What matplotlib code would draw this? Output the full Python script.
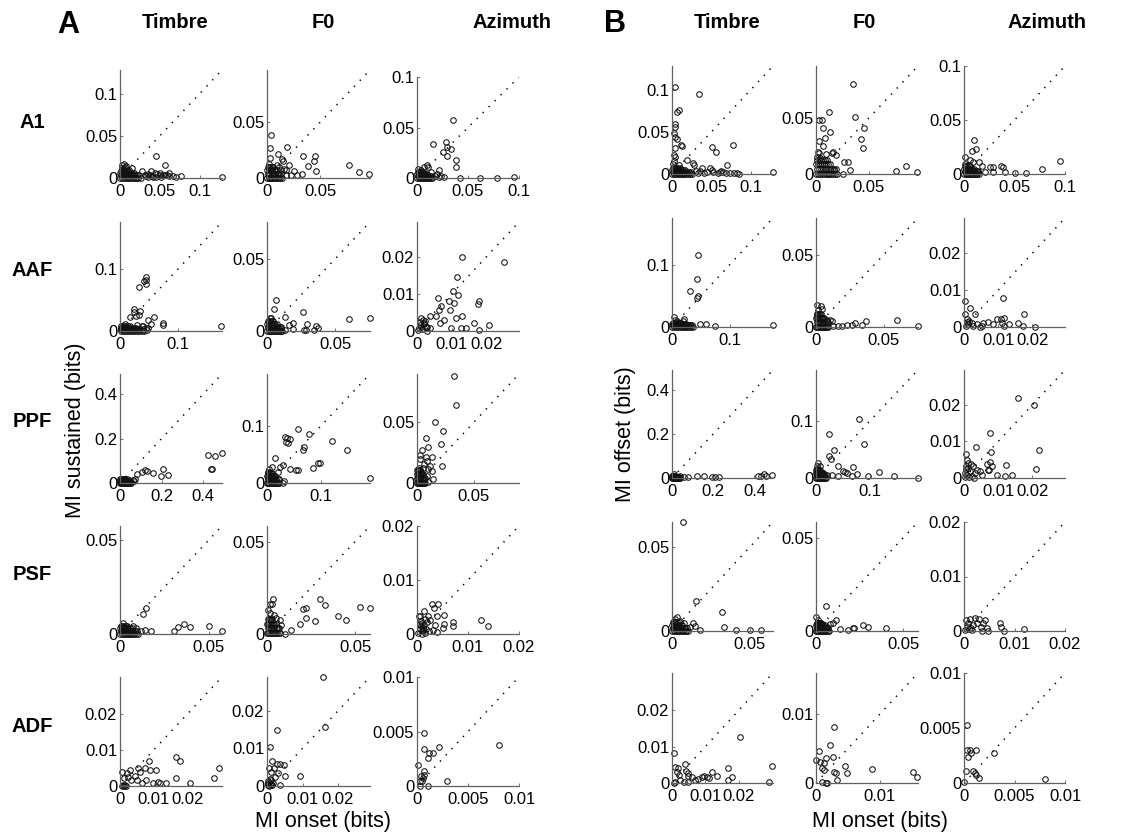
"""Onset vs sustained / offset mutual information, per cortical field and stimulus feature."""

import matplotlib

matplotlib.use("Agg")
import matplotlib.pyplot as plt
from matplotlib.ticker import FixedLocator, FuncFormatter

plt.rcParams["font.family"] = ["Liberation Sans", "DejaVu Sans"]

AREAS = ["A1", "AAF", "PPF", "PSF", "ADF"]
FEATURES = ["Timbre", "F0", "Azimuth"]

# --- MI onset (x) vs MI sustained (y), bits ---------------------------------
sust_a1_timbre = [
    (0.045, 0.026), (0.056, 0.016), (0.128, 0.001), (0.028, 0.008), (0.039, 0.008),
    (0.050, 0.006), (0.061, 0.006), (0.067, 0.002), (0.077, 0.002), (0.059, 0.003),
    (0.040, 0.002), (0.050, 0.004), (0.054, 0.003), (0.045, 0.001), (0.070, 0.001),
    (0.002, 0.016), (0.005, 0.017), (0.003, 0.012), (0.008, 0.014), (0.015, 0.012),
    (0.011, 0.010), (0.031, 0.004), (0.033, 0.002), (0.035, 0.001), (0.004, 0.011),
    (0.009, 0.010), (0.006, 0.013), (0.038, 0.0035), (0.042, 0.0015), (0.047, 0.0045),
    (0.052, 0.0015), (0.057, 0.004), (0.062, 0.002), (0.035, 0.005), (0.044, 0.006),
]
sust_a1_timbre_core = [
    (0.0006, 0.0003), (0.0028, 0.0003), (0.005, 0.0003), (0.0073, 0.0003), (0.0095, 0.0003),
    (0.0118, 0.0003), (0.014, 0.0003), (0.0162, 0.0003), (0.0185, 0.0003), (0.0207, 0.0003),
    (0.0232, 0.0003), (0.0258, 0.0003), (0.0014, 0.003), (0.0036, 0.003), (0.0059, 0.003),
    (0.0081, 0.003), (0.0104, 0.003), (0.0126, 0.003), (0.0148, 0.003), (0.0171, 0.003),
    (0.0193, 0.003), (0.0218, 0.003), (0.0244, 0.003), (0.0006, 0.0056), (0.0028, 0.0056),
    (0.005, 0.0056), (0.0073, 0.0056), (0.0095, 0.0056), (0.012, 0.0056), (0.0146, 0.0056),
    (0.0171, 0.0056), (0.0011, 0.0081), (0.0034, 0.0081), (0.0056, 0.0081), (0.0081, 0.0081),
    (0.0106, 0.0081),
]
sust_a1_f0 = [
    (0.004, 0.0385), (0.003, 0.027), (0.003, 0.018), (0.010, 0.022), (0.014, 0.017),
    (0.015, 0.015), (0.019, 0.028), (0.021, 0.0115), (0.018, 0.0076), (0.034, 0.020),
    (0.045, 0.020), (0.044, 0.015), (0.039, 0.011), (0.046, 0.006), (0.033, 0.004),
    (0.028, 0.003), (0.077, 0.0115), (0.087, 0.005), (0.0965, 0.004), (0.025, 0.006),
    (0.023, 0.003), (0.018, 0.003), (0.016, 0.008), (0.002, 0.013), (0.009, 0.012),
    (0.011, 0.010), (0.013, 0.007),
]
sust_a1_f0_core = [
    (0.0003, 0.0003), (0.0015, 0.0003), (0.0027, 0.0003), (0.0039, 0.0003), (0.0051, 0.0003),
    (0.0063, 0.0003), (0.0075, 0.0003), (0.0087, 0.0003), (0.0099, 0.0003), (0.0111, 0.0003),
    (0.0125, 0.0003), (0.0138, 0.0003), (0.0008, 0.0036), (0.002, 0.0036), (0.0032, 0.0036),
    (0.0044, 0.0036), (0.0056, 0.0036), (0.0068, 0.0036), (0.008, 0.0036), (0.0092, 0.0036),
    (0.0104, 0.0036), (0.0117, 0.0036), (0.0131, 0.0036), (0.0003, 0.0068), (0.0015, 0.0068),
    (0.0027, 0.0068), (0.0039, 0.0068), (0.0051, 0.0068), (0.0065, 0.0068), (0.0078, 0.0068),
    (0.0092, 0.0068), (0.0006, 0.0099), (0.0018, 0.0099), (0.003, 0.0099), (0.0044, 0.0099),
    (0.0057, 0.0099),
]
sust_a1_azimuth = [
    (0.035, 0.057), (0.028, 0.036), (0.029, 0.031), (0.029, 0.022), (0.033, 0.029),
    (0.016, 0.034), (0.025, 0.026), (0.038, 0.018), (0.038, 0.011), (0.022, 0.008),
    (0.010, 0.013), (0.011, 0.011), (0.0065, 0.0107), (0.004, 0.008), (0.014, 0.0057),
    (0.026, 0.0007), (0.042, 0.000), (0.062, 0.000), (0.078, 0.000), (0.095, 0.0013),
    (0.018, 0.002), (0.020, 0.004), (0.022, 0.001), (0.024, 0.002), (0.001, 0.009),
]
sust_a1_azimuth_core = [
    (0.0003, 0.0002), (0.0016, 0.0002), (0.0029, 0.0002), (0.0042, 0.0002), (0.0054, 0.0002),
    (0.0067, 0.0002), (0.008, 0.0002), (0.0093, 0.0002), (0.0106, 0.0002), (0.0118, 0.0002),
    (0.0133, 0.0002), (0.0147, 0.0002), (0.0008, 0.0023), (0.0021, 0.0023), (0.0034, 0.0023),
    (0.0046, 0.0023), (0.0059, 0.0023), (0.0072, 0.0023), (0.0085, 0.0023), (0.0098, 0.0023),
    (0.011, 0.0023), (0.0125, 0.0023), (0.0139, 0.0023), (0.0003, 0.0043), (0.0016, 0.0043),
    (0.0029, 0.0043), (0.0042, 0.0043), (0.0054, 0.0043), (0.0069, 0.0043), (0.0083, 0.0043),
    (0.0098, 0.0043), (0.0006, 0.0063), (0.0019, 0.0063), (0.0032, 0.0063), (0.0046, 0.0063),
    (0.0061, 0.0063),
]
sust_aaf_timbre = [
    (0.044, 0.086), (0.045, 0.082), (0.041, 0.081), (0.045, 0.076), (0.032, 0.070),
    (0.024, 0.035), (0.024, 0.031), (0.018, 0.022), (0.027, 0.024), (0.033, 0.025),
    (0.035, 0.032), (0.048, 0.017), (0.058, 0.022), (0.054, 0.012), (0.073, 0.0135),
    (0.074, 0.009), (0.174, 0.0086), (0.048, 0.0054), (0.009, 0.011), (0.029, 0.009),
    (0.037, 0.008), (0.040, 0.008), (0.046, 0.001), (0.044, 0.005),
]
sust_aaf_timbre_core = [
    (0.0009, 0.0003), (0.0045, 0.0003), (0.0081, 0.0003), (0.0117, 0.0003), (0.0153, 0.0003),
    (0.0189, 0.0003), (0.0225, 0.0003), (0.0261, 0.0003), (0.0297, 0.0003), (0.0333, 0.0003),
    (0.0374, 0.0003), (0.0414, 0.0003), (0.0023, 0.003), (0.0059, 0.003), (0.0095, 0.003),
    (0.0131, 0.003), (0.0167, 0.003), (0.0203, 0.003), (0.0239, 0.003), (0.0275, 0.003),
    (0.0311, 0.003), (0.0351, 0.003), (0.0392, 0.003), (0.0009, 0.0056), (0.0045, 0.0056),
    (0.0081, 0.0056), (0.0117, 0.0056), (0.0153, 0.0056), (0.0194, 0.0056), (0.0234, 0.0056),
    (0.0275, 0.0056), (0.0018, 0.0081), (0.0054, 0.0081), (0.009, 0.0081), (0.0131, 0.0081),
    (0.0171, 0.0081),
]
sust_aaf_f0 = [
    (0.0069, 0.0215), (0.005, 0.0152), (0.0032, 0.0093), (0.013, 0.0098), (0.0266, 0.0133),
    (0.019, 0.0056), (0.016, 0.004), (0.019, 0.0016), (0.029, 0.0051), (0.027, 0.0005),
    (0.0286, 0.0009), (0.036, 0.0033), (0.0377, 0.0023), (0.0345, 0.0005), (0.060, 0.0086),
    (0.0754, 0.0093), (0.010, 0.0016), (0.002, 0.009), (0.013, 0.001),
]
sust_aaf_f0_core = [
    (0.0002, 0.0002), (0.0012, 0.0002), (0.0022, 0.0002), (0.0031, 0.0002), (0.0041, 0.0002),
    (0.005, 0.0002), (0.006, 0.0002), (0.007, 0.0002), (0.0079, 0.0002), (0.0089, 0.0002),
    (0.010, 0.0002), (0.011, 0.0002), (0.0006, 0.0026), (0.0016, 0.0026), (0.0025, 0.0026),
    (0.0035, 0.0026), (0.0044, 0.0026), (0.0054, 0.0026), (0.0064, 0.0026), (0.0073, 0.0026),
    (0.0083, 0.0026), (0.0094, 0.0026), (0.0104, 0.0026), (0.0002, 0.005), (0.0012, 0.005),
    (0.0022, 0.005), (0.0031, 0.005), (0.0041, 0.005), (0.0052, 0.005), (0.0062, 0.005),
    (0.0073, 0.005), (0.0005, 0.0072), (0.0014, 0.0072), (0.0024, 0.0072), (0.0035, 0.0072),
    (0.0046, 0.0072),
]
sust_aaf_azimuth = [
    (0.0131, 0.0201), (0.0251, 0.0187), (0.0117, 0.0147), (0.0104, 0.0109), (0.0107, 0.0076),
    (0.0119, 0.0098), (0.0093, 0.0081), (0.006, 0.0088), (0.0063, 0.0058), (0.007, 0.0067),
    (0.0095, 0.0058), (0.0112, 0.0035), (0.0131, 0.0041), (0.0078, 0.003), (0.0054, 0.004),
    (0.0037, 0.004), (0.0066, 0.0021), (0.0097, 0.0009), (0.0127, 0.0009), (0.0141, 0.0009),
    (0.0166, 0.0021), (0.0178, 0.0003), (0.0209, 0.0017), (0.0178, 0.0081), (0.0175, 0.0074),
    (0.0012, 0.0035), (0.0018, 0.003), (0.0024, 0.0026), (0.0012, 0.0012), (0.0029, 0.0012),
    (0.0039, 0.0009), (0.0005, 0.0007), (0.002, 0.0018), (0.0003, 0.0003), (0.0008, 0.0015),
    (0.0015, 0.0005), (0.002, 0.0022), (0.0025, 0.001), (0.003, 0.000), (0.001, 0.0025),
]
sust_ppf_timbre = [
    (0.424, 0.125), (0.456, 0.122), (0.49, 0.137), (0.435, 0.065), (0.44, 0.065),
    (0.208, 0.065), (0.195, 0.030), (0.232, 0.035), (0.157, 0.045), (0.12, 0.057),
    (0.128, 0.054), (0.104, 0.050), (0.083, 0.042), (0.072, 0.020), (0.061, 0.012),
    (0.032, 0.020), (0.065, 0.010), (0.045, 0.013), (0.024, 0.015),
]
sust_ppf_timbre_core = [
    (0.0012, 0.0005), (0.006, 0.0005), (0.0108, 0.0005), (0.0156, 0.0005), (0.0204, 0.0005),
    (0.0252, 0.0005), (0.030, 0.0005), (0.0348, 0.0005), (0.0396, 0.0005), (0.0444, 0.0005),
    (0.0498, 0.0005), (0.0552, 0.0005), (0.003, 0.006), (0.0078, 0.006), (0.0126, 0.006),
    (0.0174, 0.006), (0.0222, 0.006), (0.027, 0.006), (0.0318, 0.006), (0.0366, 0.006),
    (0.0414, 0.006), (0.0468, 0.006), (0.0522, 0.006), (0.0012, 0.011), (0.006, 0.011),
    (0.0108, 0.011), (0.0156, 0.011), (0.0204, 0.011), (0.0258, 0.011), (0.0312, 0.011),
    (0.0366, 0.011), (0.0024, 0.016), (0.0072, 0.016), (0.012, 0.016), (0.0174, 0.016),
    (0.0228, 0.016),
]
sust_ppf_f0 = [
    (0.058, 0.094), (0.034, 0.081), (0.037, 0.078), (0.043, 0.076), (0.035, 0.072),
    (0.038, 0.069), (0.078, 0.085), (0.119, 0.074), (0.068, 0.063), (0.067, 0.058),
    (0.147, 0.057), (0.094, 0.035), (0.098, 0.035), (0.084, 0.027), (0.043, 0.025),
    (0.053, 0.022), (0.057, 0.022), (0.19, 0.009), (0.015, 0.043), (0.029, 0.031),
    (0.024, 0.028), (0.010, 0.028), (0.004, 0.025), (0.029, 0.000), (0.031, 0.004),
    (0.002, 0.020), (0.020, 0.019),
]
sust_ppf_f0_core = [
    (0.0005, 0.0006), (0.0025, 0.0006), (0.0045, 0.0006), (0.0065, 0.0006), (0.0085, 0.0006),
    (0.0105, 0.0006), (0.0125, 0.0006), (0.0145, 0.0006), (0.0165, 0.0006), (0.0185, 0.0006),
    (0.0208, 0.0006), (0.023, 0.0006), (0.0013, 0.0066), (0.0033, 0.0066), (0.0053, 0.0066),
    (0.0073, 0.0066), (0.0093, 0.0066), (0.0113, 0.0066), (0.0133, 0.0066), (0.0153, 0.0066),
    (0.0173, 0.0066), (0.0195, 0.0066), (0.0218, 0.0066), (0.0005, 0.0124), (0.0025, 0.0124),
    (0.0045, 0.0124), (0.0065, 0.0124), (0.0085, 0.0124), (0.0108, 0.0124), (0.013, 0.0124),
    (0.0153, 0.0124), (0.001, 0.018), (0.003, 0.018), (0.005, 0.018), (0.0073, 0.018),
    (0.0095, 0.018),
]
sust_ppf_azimuth = [
    (0.0325, 0.0886), (0.034, 0.0644), (0.0162, 0.0506), (0.023, 0.043), (0.0083, 0.0375),
    (0.0212, 0.032), (0.0044, 0.027), (0.0094, 0.030), (0.003, 0.0228), (0.0077, 0.0214),
    (0.0133, 0.0214), (0.003, 0.020), (0.0088, 0.0178), (0.0059, 0.0158), (0.0118, 0.0144),
    (0.0221, 0.0144), (0.0053, 0.0122), (0.0094, 0.0117), (0.0133, 0.0103), (0.0035, 0.0089),
    (0.0142, 0.0033), (0.0024, 0.0047), (0.010, 0.001), (0.009, 0.006), (0.002, 0.012),
]
sust_ppf_azimuth_core = [
    (0.0002, 0.0004), (0.0008, 0.0004), (0.0014, 0.0004), (0.0021, 0.0004), (0.0027, 0.0004),
    (0.0034, 0.0004), (0.004, 0.0004), (0.0046, 0.0004), (0.0053, 0.0004), (0.0059, 0.0004),
    (0.0066, 0.0004), (0.0074, 0.0004), (0.0004, 0.004), (0.001, 0.004), (0.0017, 0.004),
    (0.0023, 0.004), (0.003, 0.004), (0.0036, 0.004), (0.0042, 0.004), (0.0049, 0.004),
    (0.0055, 0.004), (0.0062, 0.004), (0.007, 0.004), (0.0002, 0.0074), (0.0008, 0.0074),
    (0.0014, 0.0074), (0.0021, 0.0074), (0.0027, 0.0074), (0.0034, 0.0074), (0.0042, 0.0074),
    (0.0049, 0.0074), (0.0003, 0.0108), (0.001, 0.0108), (0.0016, 0.0108), (0.0023, 0.0108),
    (0.003, 0.0108),
]
sust_psf_timbre = [
    (0.0146, 0.0139), (0.0131, 0.0107), (0.0363, 0.0055), (0.0396, 0.0037), (0.0327, 0.0036),
    (0.0305, 0.0018), (0.050, 0.0044), (0.0575, 0.0018), (0.0177, 0.0018), (0.014, 0.0023),
    (0.012, 0.0018), (0.0075, 0.004), (0.0093, 0.0032), (0.0015, 0.0059),
]
sust_psf_timbre_core = [
    (0.0002, 0.0002), (0.0011, 0.0002), (0.002, 0.0002), (0.0029, 0.0002), (0.0037, 0.0002),
    (0.0046, 0.0002), (0.0055, 0.0002), (0.0064, 0.0002), (0.0073, 0.0002), (0.0081, 0.0002),
    (0.0091, 0.0002), (0.0101, 0.0002), (0.0006, 0.0017), (0.0014, 0.0017), (0.0023, 0.0017),
    (0.0032, 0.0017), (0.0041, 0.0017), (0.005, 0.0017), (0.0058, 0.0017), (0.0067, 0.0017),
    (0.0076, 0.0017), (0.0086, 0.0017), (0.0096, 0.0017), (0.0002, 0.0031), (0.0011, 0.0031),
    (0.002, 0.0031), (0.0029, 0.0031), (0.0037, 0.0031), (0.0047, 0.0031), (0.0057, 0.0031),
    (0.0067, 0.0031), (0.0004, 0.0045), (0.0013, 0.0045), (0.0022, 0.0045), (0.0032, 0.0045),
    (0.0042, 0.0045),
]
sust_psf_f0 = [
    (0.0034, 0.019), (0.0019, 0.0164), (0.0031, 0.0162), (0.0006, 0.0128), (0.0015, 0.0113),
    (0.0038, 0.0104), (0.005, 0.0086), (0.0025, 0.0068), (0.0073, 0.0077), (0.0082, 0.005),
    (0.0303, 0.019), (0.0331, 0.0158), (0.0207, 0.0135), (0.0222, 0.014), (0.022, 0.0086),
    (0.0274, 0.0068), (0.0188, 0.0054), (0.0136, 0.0023), (0.0102, 0.000), (0.0529, 0.0144),
    (0.0585, 0.014), (0.0404, 0.0099), (0.0446, 0.0074),
]
sust_psf_f0_core = [
    (0.0002, 0.0003), (0.0008, 0.0003), (0.0014, 0.0003), (0.0021, 0.0003), (0.0027, 0.0003),
    (0.0034, 0.0003), (0.004, 0.0003), (0.0046, 0.0003), (0.0053, 0.0003), (0.0059, 0.0003),
    (0.0066, 0.0003), (0.0074, 0.0003), (0.0004, 0.003), (0.001, 0.003), (0.0017, 0.003),
    (0.0023, 0.003), (0.003, 0.003), (0.0036, 0.003), (0.0042, 0.003), (0.0049, 0.003),
    (0.0055, 0.003), (0.0062, 0.003), (0.007, 0.003), (0.0002, 0.0056), (0.0008, 0.0056),
    (0.0014, 0.0056), (0.0021, 0.0056), (0.0027, 0.0056), (0.0034, 0.0056), (0.0042, 0.0056),
    (0.0049, 0.0056), (0.0003, 0.0081), (0.001, 0.0081), (0.0016, 0.0081), (0.0023, 0.0081),
    (0.003, 0.0081),
]
sust_psf_azimuth = [
    (0.0029, 0.0056), (0.0042, 0.0055), (0.0034, 0.0049), (0.0052, 0.0036), (0.0039, 0.0033),
    (0.0013, 0.0042), (0.0005, 0.0033), (0.0003, 0.0033), (0.0021, 0.0033), (0.0026, 0.0026),
    (0.0019, 0.0023), (0.001, 0.002), (0.0036, 0.0017), (0.0052, 0.0018), (0.0051, 0.0012),
    (0.007, 0.0014), (0.0071, 0.0023), (0.0125, 0.0026), (0.014, 0.0015), (0.0039, 0.0003),
    (0.0032, 0.0008), (0.0023, 0.0005), (0.0002, 0.0002), (0.0005, 0.001), (0.0008, 0.0015),
    (0.001, 0.0005), (0.0012, 0.0012), (0.0015, 0.0002), (0.0018, 0.001), (0.001, 0.000),
    (0.0005, 0.0018), (0.0014, 0.0017), (0.0007, 0.0025), (0.0016, 0.0028), (0.0011, 0.0008),
]
sust_adf_timbre = [
    (0.0292, 0.0049), (0.0279, 0.0021), (0.0206, 0.0009), (0.0167, 0.0081), (0.0178, 0.0069),
    (0.0167, 0.0021), (0.0137, 0.0007), (0.0113, 0.0012), (0.0118, 0.0007), (0.0098, 0.0007),
    (0.0086, 0.0069), (0.0075, 0.0049), (0.009, 0.0044), (0.0106, 0.0044), (0.0078, 0.0018),
    (0.0059, 0.004), (0.0054, 0.0049), (0.0044, 0.0028), (0.0029, 0.0044), (0.002, 0.0035),
    (0.0005, 0.004), (0.0012, 0.0021), (0.0025, 0.0026), (0.0034, 0.0017), (0.0049, 0.0017),
    (0.0064, 0.0007), (0.0005, 0.000), (0.0012, 0.000), (0.0018, 0.000), (0.0008, 0.0004),
    (0.0015, 0.0002),
]
sust_adf_f0 = [
    (0.0157, 0.0289), (0.0164, 0.0158), (0.0029, 0.0149), (0.0009, 0.0103), (0.0015, 0.0066),
    (0.0027, 0.0058), (0.0036, 0.0058), (0.0047, 0.0056), (0.0006, 0.0047), (0.0019, 0.0047),
    (0.0012, 0.0038), (0.0031, 0.0035), (0.005, 0.0027), (0.0093, 0.0027), (0.0022, 0.0025),
    (0.0008, 0.0018), (0.0036, 0.0003), (0.0003, 0.0008), (0.0008, 0.0006), (0.0012, 0.0003),
    (0.0006, 0.000), (0.0003, 0.0003), (0.0006, 0.001), (0.001, 0.0005), (0.0012, 0.0015),
    (0.0015, 0.0002), (0.0004, 0.0013), (0.0017, 0.0009),
]
sust_adf_azimuth = [
    (0.0007, 0.0049), (0.00065, 0.0034), (0.0011, 0.0026), (0.0012, 0.003), (0.0016, 0.003),
    (0.0022, 0.0036), (0.008, 0.0038), (0.0001, 0.0019), (0.0007, 0.0014), (0.0004, 0.0009),
    (0.0006, 0.0007), (0.0003, 0.0005), (0.0005, 0.0005), (0.0003, 0.000), (0.0011, 0.000),
    (0.0029, 0.0005), (0.00065, 0.001),
]

# --- MI onset (x) vs MI offset (y), bits ------------------------------------
off_a1_timbre = [
    (0.0042, 0.1028), (0.0336, 0.0945), (0.0063, 0.0739), (0.0084, 0.0759), (0.0042, 0.0593),
    (0.0034, 0.0561), (0.0021, 0.0482), (0.0042, 0.0443), (0.0063, 0.0411), (0.0034, 0.0304),
    (0.0113, 0.0344), (0.0126, 0.0336), (0.0021, 0.0225), (0.0042, 0.0206), (0.0189, 0.0166),
    (0.0265, 0.0134), (0.0273, 0.0107), (0.0504, 0.0324), (0.0559, 0.0265), (0.0769, 0.0344),
    (0.0702, 0.0107), (0.0378, 0.0067), (0.0483, 0.0067), (0.0504, 0.0047), (0.0525, 0.0028),
    (0.0609, 0.0028), (0.0651, 0.002), (0.0735, 0.0008), (0.0819, 0.0008), (0.128, 0.002),
    (0.001, 0.012), (0.003, 0.015), (0.009, 0.011), (0.030, 0.004), (0.033, 0.0015),
    (0.036, 0.003), (0.040, 0.001), (0.044, 0.0025), (0.058, 0.001), (0.062, 0.0035),
    (0.068, 0.001), (0.078, 0.0015), (0.085, 0.0005),
]
off_a1_timbre_core = [
    (0.0005, 0.0002), (0.0027, 0.0002), (0.0049, 0.0002), (0.007, 0.0002), (0.0092, 0.0002),
    (0.0113, 0.0002), (0.0135, 0.0002), (0.0157, 0.0002), (0.0178, 0.0002), (0.020, 0.0002),
    (0.0224, 0.0002), (0.0248, 0.0002), (0.0014, 0.0026), (0.0035, 0.0026), (0.0057, 0.0026),
    (0.0078, 0.0026), (0.010, 0.0026), (0.0122, 0.0026), (0.0143, 0.0026), (0.0165, 0.0026),
    (0.0186, 0.0026), (0.0211, 0.0026), (0.0235, 0.0026), (0.0005, 0.005), (0.0027, 0.005),
    (0.0049, 0.005), (0.007, 0.005), (0.0092, 0.005), (0.0116, 0.005), (0.014, 0.005),
    (0.0165, 0.005), (0.0011, 0.0072), (0.0032, 0.0072), (0.0054, 0.0072), (0.0078, 0.0072),
    (0.0103, 0.0072),
]
off_a1_f0 = [
    (0.035, 0.0808), (0.0121, 0.056), (0.0032, 0.0485), (0.0054, 0.0485), (0.0064, 0.0416),
    (0.0134, 0.0374), (0.0086, 0.032), (0.0025, 0.030), (0.0064, 0.0254), (0.0016, 0.020),
    (0.0032, 0.0192), (0.0095, 0.018), (0.0159, 0.020), (0.0153, 0.0192), (0.019, 0.017),
    (0.0372, 0.0509), (0.0452, 0.041), (0.043, 0.031), (0.0445, 0.023), (0.027, 0.011),
    (0.030, 0.0105), (0.0328, 0.0036), (0.0254, 0.000), (0.0175, 0.0036), (0.0757, 0.003),
    (0.0859, 0.0072), (0.0964, 0.0021), (0.001, 0.015), (0.004, 0.014), (0.010, 0.013),
]
off_a1_f0_core = [
    (0.0004, 0.0004), (0.0022, 0.0004), (0.004, 0.0004), (0.0057, 0.0004), (0.0075, 0.0004),
    (0.0092, 0.0004), (0.011, 0.0004), (0.0128, 0.0004), (0.0145, 0.0004), (0.0163, 0.0004),
    (0.0183, 0.0004), (0.0202, 0.0004), (0.0011, 0.0046), (0.0029, 0.0046), (0.0046, 0.0046),
    (0.0064, 0.0046), (0.0081, 0.0046), (0.0099, 0.0046), (0.0117, 0.0046), (0.0134, 0.0046),
    (0.0152, 0.0046), (0.0172, 0.0046), (0.0191, 0.0046), (0.0004, 0.0087), (0.0022, 0.0087),
    (0.004, 0.0087), (0.0057, 0.0087), (0.0075, 0.0087), (0.0095, 0.0087), (0.0114, 0.0087),
    (0.0134, 0.0087), (0.0009, 0.0126), (0.0026, 0.0126), (0.0044, 0.0126), (0.0064, 0.0126),
    (0.0084, 0.0126),
]
off_a1_azimuth = [
    (0.0099, 0.0315), (0.0076, 0.0216), (0.0119, 0.0231), (0.001, 0.016), (0.0059, 0.013),
    (0.0092, 0.0108), (0.0152, 0.0108), (0.0175, 0.0077), (0.0257, 0.0062), (0.0284, 0.0068),
    (0.0363, 0.0077), (0.0383, 0.0068), (0.0406, 0.0015), (0.0505, 0.0012), (0.0614, 0.0012),
    (0.0769, 0.0046), (0.095, 0.012), (0.029, 0.0015), (0.0208, 0.0015), (0.0142, 0.0022),
    (0.001, 0.009), (0.005, 0.008),
]
off_a1_azimuth_core = [
    (0.0003, 0.0002), (0.0016, 0.0002), (0.0029, 0.0002), (0.0042, 0.0002), (0.0054, 0.0002),
    (0.0067, 0.0002), (0.008, 0.0002), (0.0093, 0.0002), (0.0106, 0.0002), (0.0118, 0.0002),
    (0.0133, 0.0002), (0.0147, 0.0002), (0.0008, 0.0026), (0.0021, 0.0026), (0.0034, 0.0026),
    (0.0046, 0.0026), (0.0059, 0.0026), (0.0072, 0.0026), (0.0085, 0.0026), (0.0098, 0.0026),
    (0.011, 0.0026), (0.0125, 0.0026), (0.0139, 0.0026), (0.0003, 0.005), (0.0016, 0.005),
    (0.0029, 0.005), (0.0042, 0.005), (0.0054, 0.005), (0.0069, 0.005), (0.0083, 0.005),
    (0.0098, 0.005), (0.0006, 0.0072), (0.0019, 0.0072), (0.0032, 0.0072), (0.0046, 0.0072),
    (0.0061, 0.0072),
]
off_aaf_timbre = [
    (0.0458, 0.1156), (0.043, 0.0763), (0.0315, 0.0575), (0.0458, 0.0495), (0.0441, 0.0473),
    (0.0029, 0.0161), (0.0046, 0.012), (0.0212, 0.0134), (0.0115, 0.0065), (0.0315, 0.0038),
    (0.0487, 0.0054), (0.059, 0.0043), (0.0745, 0.0011), (0.175, 0.0038), (0.009, 0.010),
    (0.019, 0.009),
]
off_aaf_timbre_core = [
    (0.0008, 0.0002), (0.004, 0.0002), (0.0072, 0.0002), (0.0104, 0.0002), (0.0136, 0.0002),
    (0.0168, 0.0002), (0.020, 0.0002), (0.0232, 0.0002), (0.0264, 0.0002), (0.0296, 0.0002),
    (0.0332, 0.0002), (0.0368, 0.0002), (0.002, 0.0026), (0.0052, 0.0026), (0.0084, 0.0026),
    (0.0116, 0.0026), (0.0148, 0.0026), (0.018, 0.0026), (0.0212, 0.0026), (0.0244, 0.0026),
    (0.0276, 0.0026), (0.0312, 0.0026), (0.0348, 0.0026), (0.0008, 0.005), (0.004, 0.005),
    (0.0072, 0.005), (0.0104, 0.005), (0.0136, 0.005), (0.0172, 0.005), (0.0208, 0.005),
    (0.0244, 0.005), (0.0016, 0.0072), (0.0048, 0.0072), (0.008, 0.0072), (0.0116, 0.0072),
    (0.0152, 0.0072),
]
off_aaf_f0 = [
    (0.001, 0.0151), (0.0035, 0.0144), (0.0017, 0.0116), (0.0042, 0.0128), (0.0005, 0.0093),
    (0.0025, 0.007), (0.0054, 0.0058), (0.0079, 0.0047), (0.0104, 0.0051), (0.0116, 0.0042),
    (0.0129, 0.0005), (0.0166, 0.0005), (0.019, 0.0005), (0.0233, 0.0012), (0.0265, 0.0012),
    (0.029, 0.0028), (0.0339, 0.0012), (0.0369, 0.0042), (0.0599, 0.0051), (0.0755, 0.0005),
]
off_aaf_f0_core = [
    (0.0002, 0.0003), (0.001, 0.0003), (0.0018, 0.0003), (0.0026, 0.0003), (0.0034, 0.0003),
    (0.0042, 0.0003), (0.005, 0.0003), (0.0058, 0.0003), (0.0066, 0.0003), (0.0074, 0.0003),
    (0.0083, 0.0003), (0.0092, 0.0003), (0.0005, 0.0033), (0.0013, 0.0033), (0.0021, 0.0033),
    (0.0029, 0.0033), (0.0037, 0.0033), (0.0045, 0.0033), (0.0053, 0.0033), (0.0061, 0.0033),
    (0.0069, 0.0033), (0.0078, 0.0033), (0.0087, 0.0033), (0.0002, 0.0062), (0.001, 0.0062),
    (0.0018, 0.0062), (0.0026, 0.0062), (0.0034, 0.0062), (0.0043, 0.0062), (0.0052, 0.0062),
    (0.0061, 0.0062), (0.0004, 0.009), (0.0012, 0.009), (0.002, 0.009), (0.0029, 0.009),
    (0.0038, 0.009),
]
off_aaf_azimuth = [
    (0.0003, 0.0071), (0.0018, 0.0051), (0.0003, 0.0036), (0.0032, 0.0034), (0.0115, 0.0078),
    (0.0175, 0.0036), (0.0095, 0.0023), (0.0107, 0.0023), (0.0117, 0.0024), (0.011, 0.0012),
    (0.0117, 0.0003), (0.013, 0.0007), (0.0159, 0.0012), (0.0173, 0.0003), (0.0207, 0.000),
    (0.0056, 0.0012), (0.0071, 0.0014), (0.0086, 0.0007), (0.001, 0.0021), (0.0022, 0.0012),
    (0.0037, 0.0007), (0.0052, 0.0003), (0.0047, 0.000), (0.0006, 0.0003), (0.0012, 0.0009),
    (0.0016, 0.0016), (0.0026, 0.0004), (0.0008, 0.0013),
]
off_ppf_timbre = [
    (0.418, 0.0075), (0.43, 0.0106), (0.445, 0.0183), (0.487, 0.015), (0.458, 0.0106),
    (0.156, 0.0106), (0.193, 0.005), (0.209, 0.005), (0.23, 0.005), (0.12, 0.0075),
    (0.08, 0.005), (0.056, 0.005), (0.04, 0.0075), (0.012, 0.016),
]
off_ppf_timbre_core = [
    (0.0008, 0.0003), (0.004, 0.0003), (0.0072, 0.0003), (0.0104, 0.0003), (0.0136, 0.0003),
    (0.0168, 0.0003), (0.020, 0.0003), (0.0232, 0.0003), (0.0264, 0.0003), (0.0296, 0.0003),
    (0.0332, 0.0003), (0.0368, 0.0003), (0.002, 0.0033), (0.0052, 0.0033), (0.0084, 0.0033),
    (0.0116, 0.0033), (0.0148, 0.0033), (0.018, 0.0033), (0.0212, 0.0033), (0.0244, 0.0033),
    (0.0276, 0.0033), (0.0312, 0.0033), (0.0348, 0.0033), (0.0008, 0.0062), (0.004, 0.0062),
    (0.0072, 0.0062), (0.0104, 0.0062), (0.0136, 0.0062), (0.0172, 0.0062), (0.0208, 0.0062),
    (0.0244, 0.0062), (0.0016, 0.009), (0.0048, 0.009), (0.008, 0.009), (0.0116, 0.009),
    (0.0152, 0.009),
]
off_ppf_f0 = [
    (0.0804, 0.104), (0.0897, 0.060), (0.0249, 0.0772), (0.0336, 0.0497), (0.0237, 0.038),
    (0.0274, 0.0333), (0.0044, 0.0263), (0.0075, 0.0216), (0.0012, 0.0205), (0.0025, 0.0158),
    (0.0417, 0.0216), (0.0685, 0.0193), (0.0498, 0.0117), (0.0542, 0.0099), (0.0573, 0.0088),
    (0.076, 0.0076), (0.1165, 0.0099), (0.1445, 0.0041), (0.096, 0.0041), (0.0667, 0.0029),
    (0.19, 0.000), (0.0137, 0.0088), (0.0199, 0.0058), (0.0293, 0.0058), (0.0417, 0.0041),
]
off_ppf_f0_core = [
    (0.0004, 0.0005), (0.002, 0.0005), (0.0036, 0.0005), (0.0052, 0.0005), (0.0068, 0.0005),
    (0.0084, 0.0005), (0.010, 0.0005), (0.0116, 0.0005), (0.0132, 0.0005), (0.0148, 0.0005),
    (0.0166, 0.0005), (0.0184, 0.0005), (0.001, 0.005), (0.0026, 0.005), (0.0042, 0.005),
    (0.0058, 0.005), (0.0074, 0.005), (0.009, 0.005), (0.0106, 0.005), (0.0122, 0.005),
    (0.0138, 0.005), (0.0156, 0.005), (0.0174, 0.005), (0.0004, 0.0093), (0.002, 0.0093),
    (0.0036, 0.0093), (0.0052, 0.0093), (0.0068, 0.0093), (0.0086, 0.0093), (0.0104, 0.0093),
    (0.0122, 0.0093), (0.0008, 0.0135), (0.0024, 0.0135), (0.004, 0.0135), (0.0058, 0.0135),
    (0.0076, 0.0135),
]
off_ppf_azimuth = [
    (0.0158, 0.0218), (0.0203, 0.020), (0.0075, 0.0124), (0.0035, 0.0084), (0.0219, 0.0076),
    (0.0006, 0.0066), (0.008, 0.0071), (0.0075, 0.0045), (0.0066, 0.0039), (0.0083, 0.0034),
    (0.0124, 0.0036), (0.007, 0.0023), (0.0072, 0.0021), (0.0097, 0.0009), (0.0119, 0.0005),
    (0.0141, 0.0009), (0.0211, 0.0025), (0.0008, 0.0048), (0.0013, 0.0041), (0.0027, 0.0032),
    (0.0039, 0.0023), (0.0054, 0.0009), (0.0006, 0.0025), (0.0017, 0.0018), (0.0032, 0.0014),
    (0.0046, 0.0018), (0.0003, 0.0003), (0.0009, 0.0009), (0.0015, 0.0002), (0.0022, 0.0006),
    (0.0004, 0.0014), (0.0028, 0.0001), (0.0011, 0.0028), (0.0021, 0.0038), (0.0005, 0.0034),
]
off_psf_timbre = [
    (0.007, 0.065), (0.0155, 0.018), (0.0319, 0.0115), (0.0334, 0.0022), (0.0138, 0.005),
    (0.0149, 0.003), (0.0032, 0.0085), (0.0021, 0.0069), (0.0053, 0.0061), (0.0079, 0.0046),
    (0.0113, 0.0026), (0.0181, 0.0006), (0.0411, 0.0006), (0.0504, 0.0006), (0.0574, 0.0006),
]
off_psf_timbre_core = [
    (0.0002, 0.0002), (0.0011, 0.0002), (0.002, 0.0002), (0.0029, 0.0002), (0.0037, 0.0002),
    (0.0046, 0.0002), (0.0055, 0.0002), (0.0064, 0.0002), (0.0073, 0.0002), (0.0081, 0.0002),
    (0.0091, 0.0002), (0.0101, 0.0002), (0.0006, 0.002), (0.0014, 0.002), (0.0023, 0.002),
    (0.0032, 0.002), (0.0041, 0.002), (0.005, 0.002), (0.0058, 0.002), (0.0067, 0.002),
    (0.0076, 0.002), (0.0086, 0.002), (0.0096, 0.002), (0.0002, 0.0037), (0.0011, 0.0037),
    (0.002, 0.0037), (0.0029, 0.0037), (0.0037, 0.0037), (0.0047, 0.0037), (0.0057, 0.0037),
    (0.0067, 0.0037), (0.0004, 0.0054), (0.0013, 0.0054), (0.0022, 0.0054), (0.0032, 0.0054),
    (0.0042, 0.0054),
]
off_psf_f0 = [
    (0.0056, 0.0133), (0.000, 0.0077), (0.0033, 0.0037), (0.0081, 0.0037), (0.0115, 0.0059),
    (0.010, 0.0044), (0.0138, 0.0009), (0.0186, 0.0005), (0.0215, 0.0016), (0.0219, 0.0014),
    (0.0272, 0.0032), (0.0301, 0.002), (0.0403, 0.0014), (0.0061, 0.0023), (0.0023, 0.0014),
    (0.0013, 0.0027), (0.001, 0.006),
]
off_psf_f0_core = [
    (0.0002, 0.0002), (0.0008, 0.0002), (0.0014, 0.0002), (0.0021, 0.0002), (0.0027, 0.0002),
    (0.0034, 0.0002), (0.004, 0.0002), (0.0046, 0.0002), (0.0053, 0.0002), (0.0059, 0.0002),
    (0.0066, 0.0002), (0.0074, 0.0002), (0.0004, 0.0017), (0.001, 0.0017), (0.0017, 0.0017),
    (0.0023, 0.0017), (0.003, 0.0017), (0.0036, 0.0017), (0.0042, 0.0017), (0.0049, 0.0017),
    (0.0055, 0.0017), (0.0062, 0.0017), (0.007, 0.0017), (0.0002, 0.0031), (0.0008, 0.0031),
    (0.0014, 0.0031), (0.0021, 0.0031), (0.0027, 0.0031), (0.0034, 0.0031), (0.0042, 0.0031),
    (0.0049, 0.0031), (0.0003, 0.0045), (0.001, 0.0045), (0.0016, 0.0045), (0.0023, 0.0045),
    (0.003, 0.0045),
]
off_psf_azimuth = [
    (0.0004, 0.002), (0.0012, 0.0022), (0.0022, 0.0023), (0.003, 0.0022), (0.0041, 0.002),
    (0.0038, 0.0015), (0.0026, 0.0015), (0.0018, 0.0011), (0.0033, 0.0007), (0.0046, 0.0005),
    (0.0071, 0.0015), (0.0074, 0.0007), (0.0079, 0.000), (0.0119, 0.0004), (0.0035, 0.000),
    (0.0048, 0.000), (0.0002, 0.0002), (0.0006, 0.0008), (0.001, 0.0003), (0.0014, 0.0006),
    (0.0008, 0.0014), (0.0016, 0.0001),
]
off_adf_timbre = [
    (0.0005, 0.0081), (0.001, 0.0044), (0.0017, 0.004), (0.004, 0.0052), (0.0015, 0.003),
    (0.002, 0.0021), (0.0043, 0.0033), (0.0047, 0.0028), (0.0049, 0.0018), (0.0059, 0.0017),
    (0.0069, 0.0009), (0.0079, 0.0012), (0.0089, 0.0017), (0.0096, 0.0018), (0.0104, 0.0017),
    (0.0112, 0.0015), (0.0119, 0.003), (0.0136, 0.0018), (0.0168, 0.0041), (0.0168, 0.0007),
    (0.0178, 0.0017), (0.0204, 0.0125), (0.030, 0.0046), (0.029, 0.0003), (0.0025, 0.0007),
    (0.0037, 0.0003), (0.0047, 0.0003), (0.0005, 0.000), (0.001, 0.0003),
]
off_adf_f0 = [
    (0.0028, 0.0081), (0.0022, 0.0055), (0.0004, 0.0047), (0.0016, 0.0037), (0.0026, 0.0038),
    (0.000, 0.0033), (0.0006, 0.003), (0.0012, 0.0029), (0.0009, 0.0022), (0.0013, 0.0019),
    (0.0028, 0.0016), (0.0031, 0.0015), (0.0033, 0.0004), (0.0045, 0.0025), (0.0048, 0.0015),
    (0.0088, 0.0021), (0.0152, 0.0016), (0.0158, 0.0009), (0.0016, 0.000), (0.0018, 0.000),
    (0.001, 0.0001),
]
off_adf_azimuth = [
    (0.0003, 0.0053), (0.0003, 0.003), (0.0006, 0.003), (0.0012, 0.003), (0.0004, 0.0024),
    (0.0007, 0.0027), (0.003, 0.0027), (0.0002, 0.0011), (0.0009, 0.0011), (0.0011, 0.0009),
    (0.0012, 0.0007), (0.0015, 0.0005), (0.000, 0.0001), (0.008, 0.0004),
]

# axis limits (equal on x and y) and tick values, rows = areas, cols = features
lim_sust = [
    [0.128, 0.097, 0.1],
    [0.175, 0.0755, 0.0295],
    [0.49, 0.19, 0.09],
    [0.0575, 0.0585, 0.02],
    [0.0302, 0.029, 0.01],
]
lim_off = [
    [0.128, 0.097, 0.1],
    [0.175, 0.0755, 0.0295],
    [0.49, 0.19, 0.0295],
    [0.065, 0.0585, 0.02],
    [0.0302, 0.016, 0.01],
]
ticks_sust = [
    [[0, 0.05, 0.1], [0, 0.05], [0, 0.05, 0.1]],
    [[0, 0.1], [0, 0.05], [0, 0.01, 0.02]],
    [[0, 0.2, 0.4], [0, 0.1], [0, 0.05]],
    [[0, 0.05], [0, 0.05], [0, 0.01, 0.02]],
    [[0, 0.01, 0.02], [0, 0.01, 0.02], [0, 0.005, 0.01]],
]
ticks_off = [
    [[0, 0.05, 0.1], [0, 0.05], [0, 0.05, 0.1]],
    [[0, 0.1], [0, 0.05], [0, 0.01, 0.02]],
    [[0, 0.2, 0.4], [0, 0.1], [0, 0.01, 0.02]],
    [[0, 0.05], [0, 0.05], [0, 0.01, 0.02]],
    [[0, 0.01, 0.02], [0, 0.01], [0, 0.005, 0.01]],
]

data_sust = [
    [sust_a1_timbre + sust_a1_timbre_core, sust_a1_f0 + sust_a1_f0_core,
     sust_a1_azimuth + sust_a1_azimuth_core],
    [sust_aaf_timbre + sust_aaf_timbre_core, sust_aaf_f0 + sust_aaf_f0_core, sust_aaf_azimuth],
    [sust_ppf_timbre + sust_ppf_timbre_core, sust_ppf_f0 + sust_ppf_f0_core,
     sust_ppf_azimuth + sust_ppf_azimuth_core],
    [sust_psf_timbre + sust_psf_timbre_core, sust_psf_f0 + sust_psf_f0_core, sust_psf_azimuth],
    [sust_adf_timbre, sust_adf_f0, sust_adf_azimuth],
]
data_off = [
    [off_a1_timbre + off_a1_timbre_core, off_a1_f0 + off_a1_f0_core,
     off_a1_azimuth + off_a1_azimuth_core],
    [off_aaf_timbre + off_aaf_timbre_core, off_aaf_f0 + off_aaf_f0_core, off_aaf_azimuth],
    [off_ppf_timbre + off_ppf_timbre_core, off_ppf_f0 + off_ppf_f0_core, off_ppf_azimuth],
    [off_psf_timbre + off_psf_timbre_core, off_psf_f0 + off_psf_f0_core, off_psf_azimuth],
    [off_adf_timbre, off_adf_f0, off_adf_azimuth],
]

FIG_W, FIG_H = 1127, 834
SPINE = "#606060"


def px_axes(fig, left, top, right, bottom):
    """Add axes from pixel edges measured from the top-left corner."""
    return fig.add_axes([left / FIG_W, 1 - bottom / FIG_H, (right - left) / FIG_W, (bottom - top) / FIG_H])


def tick_fmt(value, _pos):
    return "0" if value == 0 else f"{value:g}"


def scatter_panel(ax, points, lim, ticks):
    xs = [p[0] for p in points]
    ys = [p[1] for p in points]
    ax.plot([0, lim], [0, lim], color="black", lw=1.1, linestyle=(0, (0.9, 4.6)))
    ax.plot(xs, ys, "o", mfc="none", mec="#111111", ms=4.0, mew=0.75, clip_on=False)
    ax.set_xlim(0, lim)
    ax.set_ylim(0, lim)
    ax.xaxis.set_major_locator(FixedLocator(ticks))
    ax.yaxis.set_major_locator(FixedLocator(ticks))
    ax.xaxis.set_major_formatter(FuncFormatter(tick_fmt))
    ax.yaxis.set_major_formatter(FuncFormatter(tick_fmt))
    for side in ("top", "right"):
        ax.spines[side].set_visible(False)
    for side in ("left", "bottom"):
        ax.spines[side].set_color(SPINE)
        ax.spines[side].set_linewidth(0.9)
    ax.tick_params(direction="in", length=2.5, width=0.6, color=SPINE, labelsize=12)
    ax.tick_params(axis="x", pad=4)
    ax.tick_params(axis="y", pad=2)
    ax.patch.set_visible(False)


fig = plt.figure(figsize=(FIG_W / 100, FIG_H / 100), dpi=100)

a_left = [120, 267, 417]
a_right = [222, 370, 519]
a_top = [70, 222, 374, 526, 677]
a_bottom = [178, 331, 483, 634, 786]
b_left = [672, 816, 964]
b_right = [773, 918, 1065]
b_top = [66, 218, 370, 522, 673]
b_bottom = [174, 327, 478, 631, 783]

for r in range(len(AREAS)):
    for c in range(len(FEATURES)):
        top = 77 if (r, c) == (0, 2) else a_top[r]
        ax = px_axes(fig, a_left[c], top, a_right[c], a_bottom[r])
        scatter_panel(ax, data_sust[r][c], lim_sust[r][c], ticks_sust[r][c])

        ax = px_axes(fig, b_left[c], b_top[r], b_right[c], b_bottom[r])
        scatter_panel(ax, data_off[r][c], lim_off[r][c], ticks_off[r][c])


def fig_text(x, y, s, **kw):
    fig.text(x / FIG_W, 1 - y / FIG_H, s, ha="center", va="center", **kw)


fig_text(68, 25, "A", fontsize=22, fontweight="bold")
fig_text(615, 24, "B", fontsize=22, fontweight="bold")
for x, name in zip([175, 323, 512], FEATURES):
    fig_text(x, 23, name, fontsize=14.5, fontweight="bold")
for x, name in zip([727, 864, 1047], FEATURES):
    fig_text(x, 22, name, fontsize=14.5, fontweight="bold")
for y, name in zip([123, 271, 422, 574, 726], AREAS):
    fig_text(32, y, name, fontsize=14.5, fontweight="bold")

fig_text(75, 430, "MI sustained (bits)", fontsize=15.5, rotation=90)
fig_text(625, 434, "MI offset (bits)", fontsize=15.5, rotation=90)
fig_text(323, 822, "MI onset (bits)", fontsize=15.5)
fig_text(880, 821, "MI onset (bits)", fontsize=15.5)

fig.savefig("out.png", dpi=100)
